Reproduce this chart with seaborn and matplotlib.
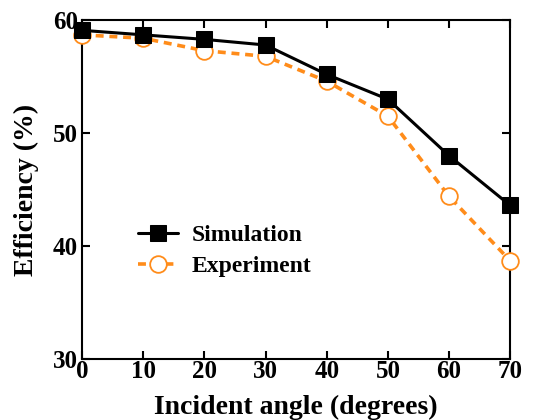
import seaborn as sns
import matplotlib.pyplot as plt
import pandas as pd

angles = [0, 10, 20, 30, 40, 50, 60, 70]
simulation = [59.1, 58.7, 58.3, 57.8, 55.2, 53.0, 48.0, 43.6]
experiment = [58.7, 58.4, 57.3, 56.8, 54.6, 51.5, 44.4, 38.7]

sns.set_style('ticks')
plt.rcParams['font.family'] = ['Liberation Serif', 'DejaVu Serif']
plt.rcParams['font.weight'] = 'bold'
plt.rcParams['text.color'] = 'black'
plt.rcParams['axes.labelcolor'] = 'black'
plt.rcParams['xtick.color'] = 'black'
plt.rcParams['ytick.color'] = 'black'
plt.rcParams['axes.edgecolor'] = 'black'

df = pd.DataFrame({'angle': angles, 'Simulation': simulation, 'Experiment': experiment})

fig, ax = plt.subplots(figsize=(5.54, 4.2), dpi=100)
sns.lineplot(data=df, x='angle', y='Simulation', ax=ax, color='black',
             marker='s', markersize=12, markeredgecolor='black', linewidth=2.2,
             label='Simulation', clip_on=False, zorder=4)
sns.lineplot(data=df, x='angle', y='Experiment', ax=ax, color='#ff8c1a',
             marker='o', markersize=12, markerfacecolor='white', markeredgecolor='#ff8c1a',
             markeredgewidth=1.3, linewidth=2.6, linestyle=(0, (2.2, 1.6)),
             label='Experiment', clip_on=False, zorder=3)

ax.set_xlim(0, 70)
ax.set_ylim(30, 60)
ax.set_xticks(range(0, 71, 10))
ax.set_yticks([30, 40, 50, 60])
ax.tick_params(direction='in', top=True, right=True, length=6, width=1.5,
               labelsize=18)
ax.tick_params(axis='x', pad=1)
ax.tick_params(axis='y', pad=3)
for lab in ax.get_xticklabels() + ax.get_yticklabels():
    lab.set_fontweight('bold')
for s in ax.spines.values():
    s.set_linewidth(1.5)
ax.set_xlabel('Incident angle (degrees)', fontsize=20, fontweight='bold', labelpad=8)
ax.set_ylabel('Efficiency (%)', fontsize=20, fontweight='bold', labelpad=10)

leg = ax.legend(loc='upper left', bbox_to_anchor=(0.08, 0.46), frameon=False,
                handlelength=1.7, handletextpad=0.6, labelspacing=0.4,
                prop={'weight': 'bold', 'size': 17})

fig.subplots_adjust(left=0.148, right=0.921, top=0.952, bottom=0.145)
fig.savefig('out.png', dpi=100)
